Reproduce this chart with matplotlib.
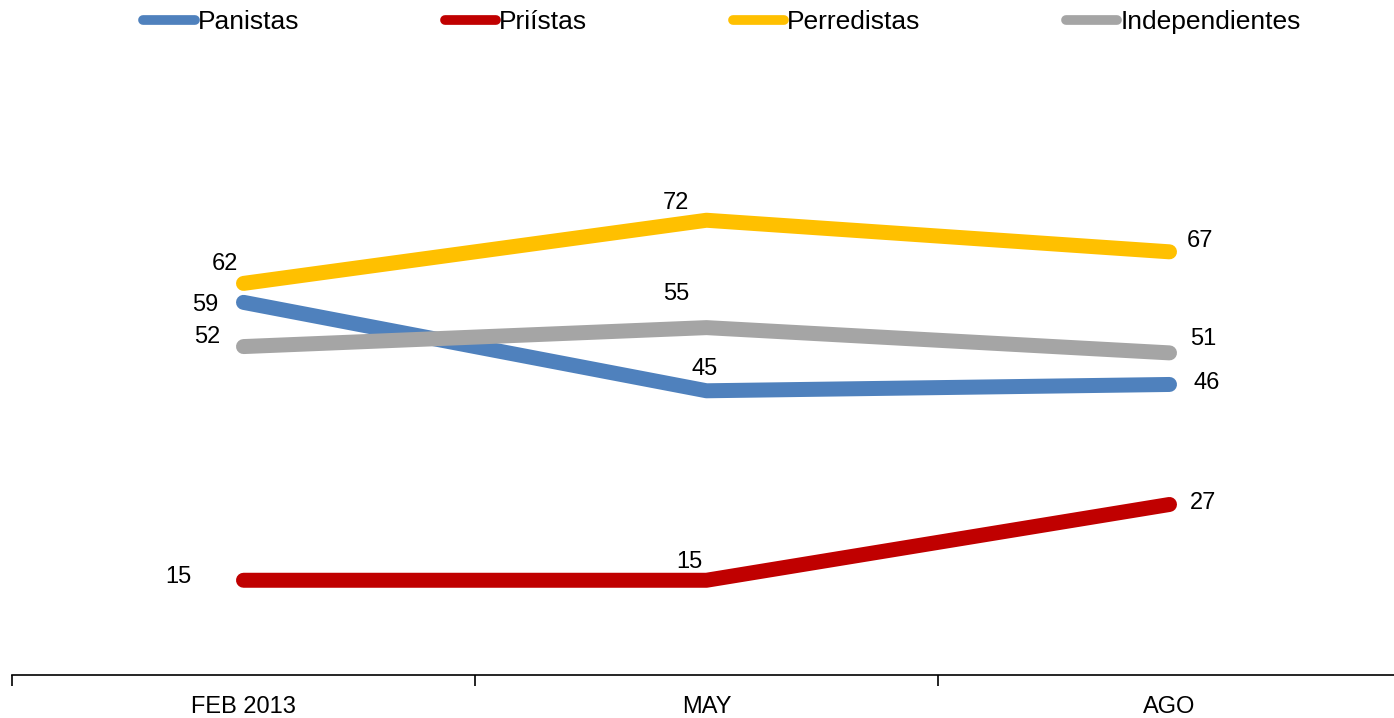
import matplotlib

matplotlib.use("Agg")
import matplotlib.pyplot as plt
from matplotlib.lines import Line2D

periods = ["FEB 2013", "MAY", "AGO"]
series = ["Panistas", "Priístas", "Perredistas", "Independientes"]
panistas = [59, 45, 46]
priistas = [15, 15, 27]
perredistas = [62, 72, 67]
independientes = [52, 55, 51]

colors = ["#4F81BD", "#C00000", "#FFC000", "#A5A5A5"]
# label offsets in pixels (dx, dy) per point
offsets = [
    [(-38, -3), (-2, 22), (37, 1)],
    [(-65, 3), (-17, 18), (34, 1)],
    [(-19, 19), (-31, 17), (30, 11)],
    [(-36, 10), (-30, 34), (34, 14)],
]

plt.rcParams["font.family"] = ["Liberation Sans", "DejaVu Sans"]
plt.rcParams["lines.solid_capstyle"] = "round"

W, H = 1394, 718
fig = plt.figure(figsize=(W / 100, H / 100), dpi=100)
ax = fig.add_axes([12 / W, (H - 675) / H, 1389 / W, 631.6 / H])

x = list(range(len(periods)))
for name, vals, c, offs in zip(series, [panistas, priistas, perredistas, independientes], colors, offsets):
    ax.plot(x, vals, color=c, linewidth=10.8, solid_capstyle="round", solid_joinstyle="round")
    for xi, v, (dx, dy) in zip(x, vals, offs):
        ax.annotate(str(v), (xi, v), xytext=(dx, dy), textcoords="offset pixels",
                    ha="center", va="center", fontsize=17, color="black")

ax.set_xlim(-0.5, 2.5)
ax.set_ylim(0, 100)
ax.set_yticks([])
ax.set_xticks([-0.5, 0.5, 1.5, 2.5])
ax.set_xticklabels([])
ax.set_xticks(x, minor=True)
ax.set_xticklabels(periods, minor=True, fontsize=17)
ax.tick_params(axis="x", which="major", direction="out", length=8, width=1.2, color="black")
ax.tick_params(axis="x", which="minor", length=0, pad=15)
for s in ["top", "right", "left"]:
    ax.spines[s].set_visible(False)
ax.spines["bottom"].set_linewidth(1.2)

handles = [Line2D([], [], color=c, linewidth=7, solid_capstyle="round") for c in colors]
fig.legend(handles, series, loc="center", bbox_to_anchor=(722 / W, 1 - 22 / H), ncol=4,
           frameon=False, fontsize=19, handlelength=1.95, handletextpad=0.12,
           columnspacing=5.5)

fig.savefig("out.png", dpi=100)
plt.close(fig)
